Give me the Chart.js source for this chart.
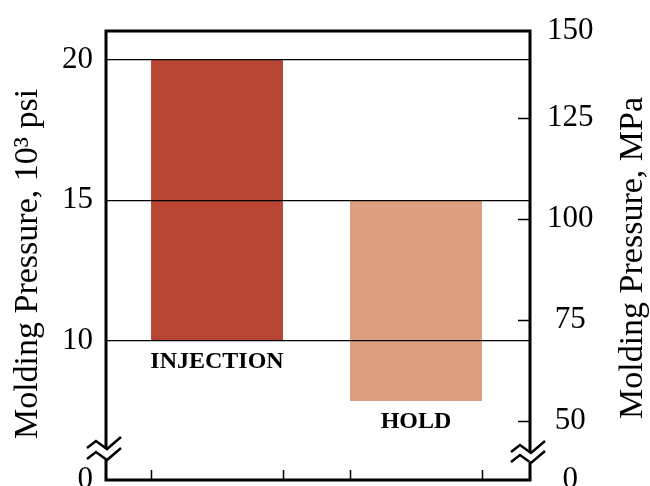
<!DOCTYPE html>
<html><head><meta charset="utf-8">
<script src="https://cdn.jsdelivr.net/npm/chart.js@4"></script>
<style>html,body{margin:0;padding:0;background:#fff;overflow:hidden}</style>
</head><body>
<canvas id="c" width="650" height="486"></canvas>
<script>
// ---- data ----
const categories = ['INJECTION', 'HOLD'];
const lowValues  = [10, 7.87];   // 10^3 psi
const highValues = [20, 15];     // 10^3 psi
const barColors  = ['#b74534', '#dc9d80'];
const psiTicks   = [10, 15, 20];
const psiBreakLabel = '0';
const mpaTicks   = [50, 75, 100, 125];
const mpaTopLabel = '150';
const mpaBreakLabel = '0';
const psiRange = [5.06, 21.01];
const mpaRange = [35.32, 146.46];
const xRange   = [-0.558, 1.573];
const leftTitle  = 'Molding Pressure, 10\u00B3 psi';
const rightTitle = 'Molding Pressure, MPa';

const serif = '"Liberation Serif", "Times New Roman", serif';

const decoPlugin = {
  id: 'deco',
  afterDraw(chart) {
    const { ctx, chartArea: a, scales } = chart;
    const yL = scales.y, yR = scales.y2;
    ctx.save();
    ctx.strokeStyle = '#000';
    ctx.fillStyle = '#000';
    // frame
    ctx.lineWidth = 3;
    const lU = yL.getPixelForValue(6.16), lD = lU + 11;
    const rU = yR.getPixelForValue(42), rD = rU + 10;
    ctx.beginPath();
    ctx.moveTo(a.left - 1.5, a.top); ctx.lineTo(a.right + 1.5, a.top);
    ctx.moveTo(a.left - 1.5, a.bottom); ctx.lineTo(a.right + 1.5, a.bottom);
    ctx.moveTo(a.left, a.top); ctx.lineTo(a.left, lU);
    ctx.moveTo(a.left, lD); ctx.lineTo(a.left, a.bottom);
    ctx.moveTo(a.right, a.top); ctx.lineTo(a.right, rU);
    ctx.moveTo(a.right, rD); ctx.lineTo(a.right, a.bottom);
    ctx.stroke();
    // break zigzags
    const zig = [[-19, -1], [-10, -8], [1, 0], [15, -12]];
    ctx.lineWidth = 2.5;
    ctx.lineJoin = 'miter';
    [[a.left, lU], [a.left, lD], [a.right, rU], [a.right, rD]].forEach(([x0, y0]) => {
      ctx.beginPath();
      zig.forEach(([dx, dy], i) => {
        if (i === 0) ctx.moveTo(x0 + dx, y0 + dy); else ctx.lineTo(x0 + dx, y0 + dy);
      });
      ctx.stroke();
    });
    // right axis inward ticks
    ctx.lineWidth = 1.5;
    ctx.beginPath();
    mpaTicks.forEach(v => {
      const y = Math.round(yR.getPixelForValue(v)) + 0.5;
      ctx.moveTo(a.right - 12, y); ctx.lineTo(a.right, y);
    });
    // bottom ticks at bar edges
    const meta = chart.getDatasetMeta(0);
    meta.data.forEach(el => {
      [el.x - el.width / 2, el.x + el.width / 2].forEach(x => {
        const xx = Math.round(x) + 0.5;
        ctx.moveTo(xx, a.bottom); ctx.lineTo(xx, a.bottom - 10);
      });
    });
    ctx.stroke();
    // category labels under each bar
    ctx.font = 'bold 24px ' + serif;
    ctx.textAlign = 'center';
    ctx.textBaseline = 'alphabetic';
    meta.data.forEach((el, i) => {
      const base = yL.getPixelForValue(lowValues[i]);
      ctx.fillText(categories[i], el.x, base + 27);
    });
    // axis titles
    ctx.font = '34px ' + serif;
    ctx.save();
    ctx.translate(37, 264); ctx.rotate(-Math.PI / 2);
    ctx.fillText(leftTitle, 0, 0);
    ctx.restore();
    ctx.save();
    ctx.translate(642, 258); ctx.rotate(-Math.PI / 2);
    ctx.fillText(rightTitle, 0, 0);
    ctx.restore();
    ctx.restore();
  }
};

const noPad = s => { s.paddingTop = 0; s.paddingBottom = 0; s.paddingLeft = 0; s.paddingRight = 0; };

new Chart(document.getElementById('c'), {
  type: 'bar',
  data: {
    datasets: [{
      data: categories.map((c, i) => ({ x: i, y: [lowValues[i], highValues[i]] })),
      backgroundColor: barColors,
      borderWidth: 0,
      barPercentage: 0.663,
      categoryPercentage: 1
    }]
  },
  options: {
    responsive: false,
    animation: false,
    devicePixelRatio: 1,
    layout: { padding: { top: 31, bottom: 6, left: 0, right: 0 } },
    plugins: { legend: { display: false }, tooltip: { enabled: false }, title: { display: false } },
    scales: {
      x: {
        type: 'linear', min: xRange[0], max: xRange[1], offset: false, display: false,
        afterBuildTicks: s => { s.ticks = categories.map((c, i) => ({ value: i })); },
        afterFit: s => { s.height = 0; noPad(s); }
      },
      y: {
        type: 'linear', position: 'left', min: psiRange[0], max: psiRange[1],
        afterBuildTicks: s => { s.ticks = [{ value: psiRange[0] }].concat(psiTicks.map(v => ({ value: v }))); },
        afterFit: s => { s.width = 106; noPad(s); },
        ticks: {
          font: { family: serif, size: 31 }, color: '#000', padding: 13, autoSkip: false,
          callback: v => (v === psiRange[0] ? psiBreakLabel : String(v))
        },
        grid: {
          z: 1, drawTicks: false, lineWidth: 1.2,
          color: c => (c.tick && c.tick.value === psiRange[0]) ? 'rgba(0,0,0,0)' : '#000'
        },
        border: { display: false }
      },
      y2: {
        type: 'linear', position: 'right', min: mpaRange[0], max: mpaRange[1],
        afterBuildTicks: s => {
          s.ticks = [{ value: mpaRange[0] }].concat(mpaTicks.map(v => ({ value: v })), [{ value: mpaRange[1] }]);
        },
        afterFit: s => { s.width = 120; noPad(s); },
        ticks: {
          font: { family: serif, size: 31 }, color: '#000', padding: 17, autoSkip: false, crossAlign: 'center',
          callback: v => (v === mpaRange[0] ? mpaBreakLabel : v === mpaRange[1] ? mpaTopLabel : String(v))
        },
        grid: { display: false, drawTicks: false },
        border: { display: false }
      }
    }
  },
  plugins: [decoPlugin]
});
</script>
</body></html>
